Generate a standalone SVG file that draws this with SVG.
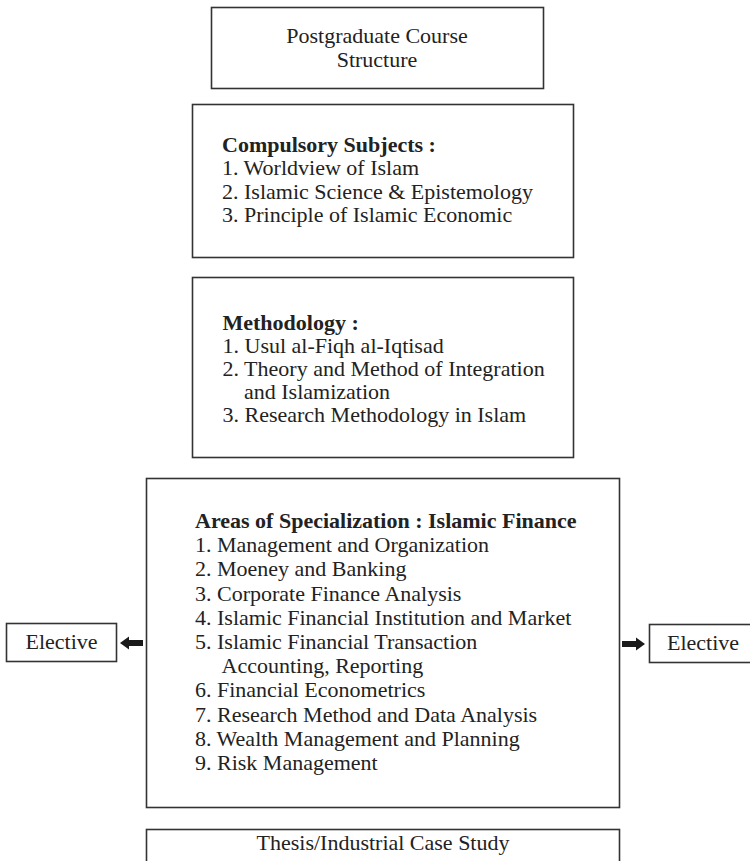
<svg xmlns="http://www.w3.org/2000/svg" width="750" height="861" viewBox="0 0 750 861">
  <style>
    .box { fill: #ffffff; stroke: #333333; stroke-width: 1.6; }
    .t { font-family: "Liberation Serif", "Times New Roman", serif; font-size: 22px; fill: #222222; }
    .c { text-anchor: middle; }
    .b { font-weight: bold; }
    .arrow { fill: #1a1a1a; stroke: none; }
  </style>
  <rect width="750" height="861" fill="#ffffff"/>

  <g id="course-structure">
    <rect class="box" x="211.5" y="7.5" width="332" height="81"/>
    <text class="t c" x="377" y="43">Postgraduate Course</text>
    <text class="t c" x="377" y="67">Structure</text>
  </g>

  <g id="compulsory-subjects">
    <rect class="box" x="192.5" y="104.5" width="381" height="153"/>
    <text class="t b" x="222" y="152">Compulsory Subjects :</text>
    <text class="t" x="222" y="175">1. Worldview of Islam</text>
    <text class="t" x="222" y="198.5">2. Islamic Science &amp; Epistemology</text>
    <text class="t" x="222" y="222">3. Principle of Islamic Economic</text>
  </g>

  <g id="methodology">
    <rect class="box" x="192.5" y="277.5" width="381" height="180"/>
    <text class="t b" x="222.5" y="330">Methodology :</text>
    <text class="t" x="222.5" y="353">1. Usul al-Fiqh al-Iqtisad</text>
    <text class="t" x="222.5" y="376">2. Theory and Method of Integration</text>
    <text class="t" x="244" y="399">and Islamization</text>
    <text class="t" x="222.5" y="422">3. Research Methodology in Islam</text>
  </g>

  <g id="specialization">
    <rect class="box" x="146.5" y="478.5" width="473" height="329"/>
    <text class="t b" x="195" y="528">Areas of Specialization : Islamic Finance</text>
    <text class="t" x="195" y="552.2">1. Management and Organization</text>
    <text class="t" x="195" y="576.4">2. Moeney and Banking</text>
    <text class="t" x="195" y="600.6">3. Corporate Finance Analysis</text>
    <text class="t" x="195" y="624.8">4. Islamic Financial Institution and Market</text>
    <text class="t" x="195" y="649">5. Islamic Financial Transaction</text>
    <text class="t" x="221.5" y="673.2">Accounting, Reporting</text>
    <text class="t" x="195" y="697.4">6. Financial Econometrics</text>
    <text class="t" x="195" y="721.6">7. Research Method and Data Analysis</text>
    <text class="t" x="195" y="745.8">8. Wealth Management and Planning</text>
    <text class="t" x="195" y="770">9. Risk Management</text>
  </g>

  <g id="elective-left">
    <rect class="box" x="6.5" y="623.5" width="110" height="38"/>
    <text class="t c" x="61.5" y="649">Elective</text>
  </g>

  <g id="elective-right">
    <rect class="box" x="649.5" y="624.5" width="110" height="38"/>
    <text class="t c" x="703" y="650">Elective</text>
  </g>

  <g id="thesis">
    <rect class="box" x="146.5" y="829.5" width="473" height="60"/>
    <text class="t c" x="383" y="850">Thesis/Industrial Case Study</text>
  </g>

  <g id="connectors">
    <!-- block arrows from the specialization box to each elective -->
    <polygon class="arrow" points="120,643 129,636.5 129,640 143,640 143,646 129,646 129,649.5"/>
    <polygon class="arrow" points="645,644 636,637.5 636,641 622,641 622,647 636,647 636,650.5"/>
  </g>
</svg>
